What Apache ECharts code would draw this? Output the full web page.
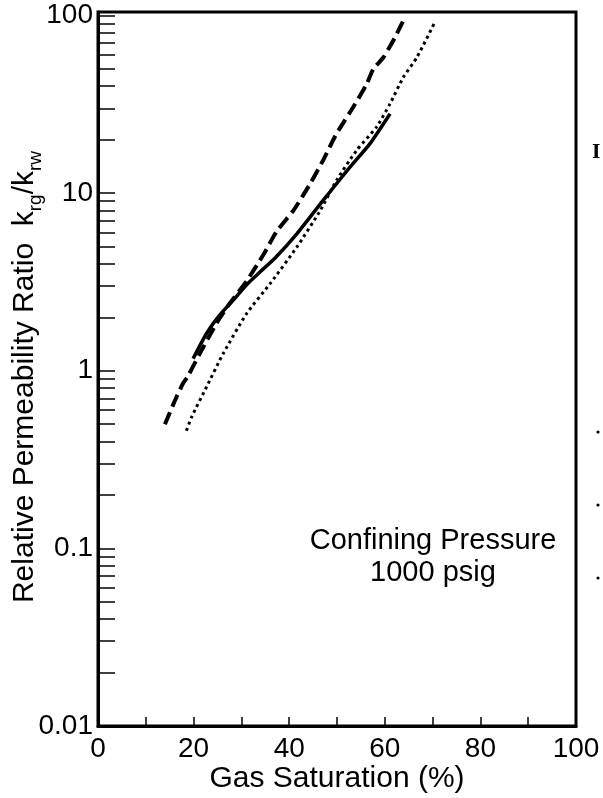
<!DOCTYPE html>
<html>
<head>
<meta charset="utf-8">
<script src="https://cdn.jsdelivr.net/npm/echarts@6/dist/echarts.min.js"></script>
<style>
  html, body { margin: 0; padding: 0; background: #fff; }
  #chart { width: 603px; height: 798px; }
</style>
</head>
<body>
<div id="chart"></div>
<script>
// gas saturation (%) vs krg/krw
const dashedData = [
  [14.0, 0.50], [16.1, 0.68], [17.8, 0.85], [18.8, 0.93], [21.3, 1.25],
  [24.8, 1.85], [27.6, 2.4], [31.1, 3.2], [34.6, 4.5], [37.4, 6.1],
  [40.9, 8.0], [44.4, 11.3], [47.1, 15.3], [49.9, 21.6], [53.4, 30.5],
  [56.2, 41], [57.6, 50], [59.7, 58], [62.1, 75], [64.0, 95]
];
const solidData = [
  [19.9, 1.17], [22.7, 1.62], [25.4, 2.05], [28.3, 2.5], [31.1, 3.05],
  [33.9, 3.6], [37.0, 4.3], [41.6, 5.9], [47.1, 9.1], [52.7, 14.0],
  [56.9, 19.0], [61.1, 28]
];
const dottedData = [
  [18.5, 0.46], [19.6, 0.55], [22.7, 0.81], [26.2, 1.25], [31.1, 2.1],
  [36.0, 3.09], [41.6, 4.97], [46.4, 7.9], [49.9, 11.8], [54.1, 17.4],
  [58.3, 23.6], [61.1, 31.9], [63.9, 45], [66.7, 58], [70.5, 92]
];

const xLabelValues = [0, 20, 40, 60, 80, 100];
const yLabelValues = [0.01, 0.1, 1, 10, 100];
const yTickValues = [
  0.01, 0.02, 0.03, 0.04, 0.05, 0.06, 0.07, 0.08, 0.09,
  0.1, 0.2, 0.3, 0.4, 0.5, 0.6, 0.7, 0.8, 0.9,
  1, 2, 3, 4, 5, 6, 7, 8, 9,
  10, 20, 30, 40, 50, 60, 70, 80, 90, 100
];

const font = '"Liberation Sans", Arial, Helvetica, sans-serif';
const chart = echarts.init(document.getElementById('chart'));

chart.setOption({
  animation: false,
  backgroundColor: '#fff',
  grid: {
    left: 98, right: 27, top: 12, bottom: 72,
    outerBoundsMode: 'none', containLabel: false,
    show: true, borderColor: '#000', borderWidth: 3
  },
  xAxis: {
    type: 'value',
    min: 0, max: 100, interval: 10,
    name: 'Gas Saturation (%)',
    nameLocation: 'middle',
    nameGap: 38,
    nameMoveOverlap: false,
    nameTextStyle: { color: '#000', fontSize: 30, fontFamily: font },
    axisLine: { lineStyle: { color: '#000', width: 3 } },
    axisTick: { inside: true, length: 9, lineStyle: { color: '#000', width: 1.5 } },
    axisLabel: {
      customValues: xLabelValues,
      margin: 9, color: '#000', fontSize: 28, fontFamily: font
    },
    splitLine: { show: false }
  },
  yAxis: {
    type: 'log',
    min: 0.01, max: 104.6,
    name: '{m|Relative Permeability Ratio  k}{s|rg}{m|/k}{s|rw}',
    nameLocation: 'middle',
    nameRotate: 90,
    nameGap: 53,
    nameMoveOverlap: false,
    nameTextStyle: {
      color: '#000', fontFamily: font, padding: [0, 16, 0, 0],
      rich: {
        m: { fontSize: 30, fontFamily: font, color: '#000', lineHeight: 40 },
        s: { fontSize: 19, fontFamily: font, color: '#000', lineHeight: 40, verticalAlign: 'bottom' }
      }
    },
    axisLine: { lineStyle: { color: '#000', width: 3 } },
    axisTick: {
      inside: true, length: 17, customValues: yTickValues,
      lineStyle: { color: '#000', width: 1.5 }
    },
    axisLabel: {
      customValues: yLabelValues,
      margin: 5, color: '#000', fontSize: 28, fontFamily: font,
      formatter: v => String(+Number(v).toPrecision(3))
    },
    splitLine: { show: false },
    minorTick: { show: false }
  },
  series: [
    {
      type: 'line', data: dashedData, showSymbol: false, smooth: 0.2,
      lineStyle: { color: '#000', width: 4, type: [13, 6] }
    },
    {
      type: 'line', data: solidData, showSymbol: false, smooth: 0.2,
      lineStyle: { color: '#000', width: 3.5 }
    },
    {
      type: 'line', data: dottedData, showSymbol: false, smooth: 0.2,
      lineStyle: { color: '#000', width: 3, type: [3, 3.5] }
    }
  ],
  graphic: [
    {
      type: 'text', x: 433, y: 525,
      style: {
        text: 'Confining Pressure\n1000 psig',
        align: 'center', verticalAlign: 'top',
        fontSize: 29, lineHeight: 32, fontFamily: font, fill: '#000'
      }
    },
    {
      type: 'text', x: 592, y: 144,
      style: { text: 'I', fontSize: 18, fontFamily: '"DejaVu Serif", serif', fontWeight: 'bold', fill: '#000' }
    },
    { type: 'circle', shape: { cx: 598, cy: 432, r: 1.6 }, style: { fill: '#000' } },
    { type: 'circle', shape: { cx: 598, cy: 505, r: 1.6 }, style: { fill: '#000' } },
    { type: 'circle', shape: { cx: 598, cy: 578, r: 1.6 }, style: { fill: '#000' } }
  ]
});
</script>
</body>
</html>
